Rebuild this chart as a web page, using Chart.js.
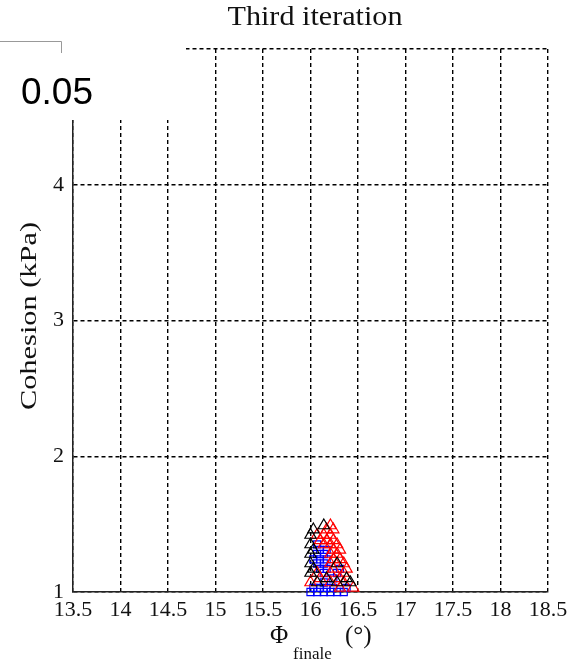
<!DOCTYPE html>
<html>
<head>
<meta charset="utf-8">
<script src="https://cdn.jsdelivr.net/npm/chart.js@4.4.0/dist/chart.umd.min.js"></script>
<style>
  html, body { margin: 0; padding: 0; background: #fff; }
</style>
</head>
<body>
<canvas id="grafico" width="578" height="668"></canvas>
<script>
// friction angle (deg) / cohesion (kPa) pairs, one set per marker
var pretoPhi = [16.14, 16.03, 16.00, 16.00, 16.03, 16.00, 16.00, 16.28, 16.03, 16.00, 16.17, 16.38, 16.07, 16.28, 16.42];
var pretoC   = [1.49,  1.46,  1.42,  1.35,  1.31,  1.28,  1.21,  1.21,  1.17,  1.14,  1.10,  1.10,  1.07,  1.07,  1.07];

var vermelhoPhi = [16.21, 16.17, 16.24, 16.07, 16.14, 16.21, 16.10, 16.17, 16.24, 16.14, 16.21, 16.28,
                   16.24, 16.31, 16.21, 16.28, 16.24, 16.31, 16.21, 16.35, 16.24, 16.38, 16.07, 16.21,
                   16.35, 16.10, 16.31, 16.00, 16.21, 16.35, 16.31, 16.45];
var vermelhoC   = [1.49,  1.46,  1.46,  1.42,  1.42,  1.42,  1.38,  1.38,  1.38,  1.35,  1.35,  1.35,
                   1.31,  1.31,  1.28,  1.28,  1.24,  1.24,  1.21,  1.21,  1.17,  1.17,  1.14,  1.14,
                   1.14,  1.10,  1.10,  1.07,  1.07,  1.07,  1.03,  1.03];

var azulPhi = [16.07, 16.10, 16.17, 16.07, 16.14, 16.03, 16.10, 16.17, 16.07, 16.14, 16.10, 16.17, 16.31,
               16.14, 16.28, 16.24, 16.14, 16.03, 16.10, 16.17, 16.24, 16.38,
               16.00, 16.07, 16.14, 16.21, 16.28, 16.35];
var azulC   = [1.35,  1.31,  1.31,  1.28,  1.28,  1.24,  1.24,  1.24,  1.21,  1.21,  1.17,  1.17,  1.17,
               1.14,  1.14,  1.10,  1.07,  1.03,  1.03,  1.03,  1.03,  1.03,
               1.00,  1.00,  1.00,  1.00,  1.00,  1.00];

var phiTicks = [13.5, 14, 14.5, 15, 15.5, 16, 16.5, 17, 17.5, 18, 18.5];
var cTicks = [1, 2, 3, 4, 5];

var titulo = 'Third iteration';
var tituloY = 'Cohesion (kPa)';
var nota = '0.05';

function pontos(xs, ys) {
  var lista = [];
  for (var i = 0; i < xs.length; i++) lista.push({x: xs[i], y: ys[i]});
  return lista;
}

var serif = '"Liberation Serif", "Times New Roman", serif';

// titles, x label with subscript and the pasted box in the corner
var textos = {
  id: 'textos',
  afterDraw: function(chart) {
    var ctx = chart.ctx;
    ctx.save();
    ctx.fillStyle = '#111';
    ctx.textBaseline = 'alphabetic';

    ctx.font = '27px ' + serif;
    ctx.textAlign = 'center';
    var w = ctx.measureText(titulo).width;
    ctx.save();
    ctx.translate(315, 25);
    ctx.scale(175 / w, 1);
    ctx.fillText(titulo, 0, 0);
    ctx.restore();

    ctx.font = '23px ' + serif;
    w = ctx.measureText(tituloY).width;
    ctx.save();
    ctx.translate(36, 316);
    ctx.rotate(-Math.PI / 2);
    ctx.scale(188 / w, 1);
    ctx.fillText(tituloY, 0, 0);
    ctx.restore();

    ctx.textAlign = 'left';
    ctx.font = '25px ' + serif;
    ctx.fillText('\u03A6', 270, 643);
    ctx.font = '17px ' + serif;
    ctx.fillText('finale', 293, 659);
    ctx.font = '25px ' + serif;
    ctx.fillText('(\u00B0)', 345, 643);

    ctx.fillStyle = '#fff';
    ctx.fillRect(0, 0, 186, 120);
    ctx.strokeStyle = '#999';
    ctx.lineWidth = 1;
    ctx.beginPath();
    ctx.moveTo(0, 41.5);
    ctx.lineTo(61.5, 41.5);
    ctx.lineTo(61.5, 53);
    ctx.stroke();
    ctx.fillStyle = '#000';
    ctx.font = '37px "Liberation Sans", Arial, sans-serif';
    ctx.fillText(nota, 21, 104);
    ctx.restore();
  }
};

var conjunto = function(label, xs, ys, estilo, raio, cor) {
  return {
    label: label,
    data: pontos(xs, ys),
    pointStyle: estilo,
    pointRadius: raio,
    borderColor: cor,
    backgroundColor: 'rgba(0,0,0,0)',
    borderWidth: 1.2,
    clip: false
  };
};

var ctx = document.getElementById('grafico').getContext('2d');
var grafico = new Chart(ctx, {
  type: 'scatter',
  data: {
    datasets: [
      conjunto('preto', pretoPhi, pretoC, 'triangle', 6.5, '#000'),
      conjunto('vermelho', vermelhoPhi, vermelhoC, 'triangle', 6.5, '#f00'),
      conjunto('azul', azulPhi, azulC, 'rect', 5, '#00f')
    ]
  },
  options: {
    responsive: false,
    animation: false,
    devicePixelRatio: 1,
    layout: { padding: { top: 49, right: 30, left: 0, bottom: 0 } },
    plugins: {
      legend: { display: false },
      tooltip: { enabled: false }
    },
    scales: {
      x: {
        type: 'linear',
        min: 13.5,
        max: 18.5,
        afterFit: function(s) { s.height = 76; },
        afterBuildTicks: function(s) { s.ticks = phiTicks.map(function(v) { return {value: v}; }); },
        ticks: {
          color: '#111',
          padding: 5,
          maxRotation: 0,
          autoSkip: false,
          font: { family: serif, size: 22 },
          callback: function(v) { return String(v); }
        },
        grid: { color: '#000', lineWidth: 1.4, drawTicks: false },
        border: { display: true, color: '#222', width: 1.5, dash: [4, 3] }
      },
      y: {
        type: 'linear',
        min: 1,
        max: 5,
        afterFit: function(s) { s.width = 73; },
        afterBuildTicks: function(s) { s.ticks = cTicks.map(function(v) { return {value: v}; }); },
        ticks: {
          color: '#111',
          padding: 9,
          font: { family: serif, size: 22 },
          callback: function(v) { return String(v); }
        },
        grid: { color: '#000', lineWidth: 1.4, drawTicks: false },
        border: { display: true, color: '#222', width: 1.5, dash: [4, 3] }
      }
    }
  },
  plugins: [textos]
});
</script>
</body>
</html>
